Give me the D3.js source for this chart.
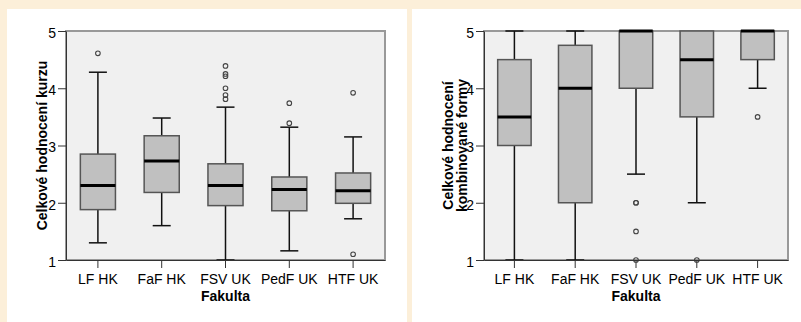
<!DOCTYPE html>
<html>
<head>
<meta charset="utf-8">
<script src="https://cdn.jsdelivr.net/npm/d3@7"></script>
<style>
    body { margin: 0; background: #fcefd9; }
    svg { display: block; font-family: "Liberation Sans", Arial, sans-serif; }
    .axis text { font-size: 14px; fill: #000; }
    .axis line, .axis path { stroke: #333; }
    .title { font-size: 14px; font-weight: bold; fill: #000; }
</style>
</head>
<body>
<script>
// categories on the x axis (both panels)
var faculties = ["LF HK", "FaF HK", "FSV UK", "PedF UK", "HTF UK"];
var yTicks = [1, 2, 3, 4, 5];

// left panel - Celkové hodnocení kurzu
var kurzMin = [1.30, 1.60, 1.00, 1.16, 1.72];
var kurzQ1 = [1.88, 2.18, 1.95, 1.86, 1.99];
var kurzMed = [2.30, 2.73, 2.30, 2.23, 2.21];
var kurzQ3 = [2.85, 3.17, 2.68, 2.45, 2.52];
var kurzMax = [4.28, 3.48, 3.67, 3.32, 3.15];
var kurzOut = [[4.61], [], [4.39, 4.25, 4.21, 4.00, 3.88, 3.81], [3.74, 3.39], [3.92, 1.10]];

// right panel - Celkové hodnocení kombinované formy
var kombMin = [1, 1, 2.5, 2, 4];
var kombQ1 = [3, 2, 4, 3.5, 4.5];
var kombMed = [3.5, 4, 5, 4.5, 5];
var kombQ3 = [4.5, 4.75, 5, 5, 5];
var kombMax = [5, 5, 5, 5, 5];
var kombOut = [[], [], [2, 2, 1.5, 1], [1], [3.5]];

var svg = d3.select("body").append("svg")
    .attr("width", 801)
    .attr("height", 322);

// white panels on the cream page
svg.append("rect").attr("x", 7).attr("y", 9).attr("width", 400).attr("height", 313).attr("fill", "#fff");
svg.append("rect").attr("x", 412).attr("y", 9).attr("width", 389).attr("height", 313).attr("fill", "#fff");

function drawPanel(opt) {
    var x = d3.scaleBand()
        .domain(faculties)
        .range([opt.left, opt.right]);

    var y = d3.scaleLinear()
        .domain([1, 5])
        .range([opt.bottom, opt.top]);

    var g = svg.append("g");

    // plot background + grey frame
    g.append("rect")
        .attr("x", opt.left)
        .attr("y", opt.top)
        .attr("width", opt.right - opt.left)
        .attr("height", opt.bottom - opt.top)
        .attr("fill", "#f0f0f0")
        .attr("stroke", "#999")
        .attr("stroke-width", 2);

    var bw = x.bandwidth() * 0.55;
    var cw = 18;

    var boxes = g.selectAll(".box")
        .data(faculties.map(function (f, i) {
            return { name: f, min: opt.min[i], q1: opt.q1[i], med: opt.med[i], q3: opt.q3[i], max: opt.max[i], out: opt.out[i] };
        }))
        .enter()
        .append("g")
        .attr("class", "box")
        .attr("transform", d => "translate(" + (x(d.name) + x.bandwidth() / 2) + ",0)");

    // whiskers
    boxes.filter(d => d.max > d.q3).append("line")
        .attr("y1", d => y(d.q3)).attr("y2", d => y(d.max))
        .attr("stroke", "#111").attr("stroke-width", 1.5);
    boxes.filter(d => d.max > d.q3).append("line")
        .attr("x1", -cw / 2).attr("x2", cw / 2)
        .attr("y1", d => y(d.max)).attr("y2", d => y(d.max))
        .attr("stroke", "#111").attr("stroke-width", 1.5);
    boxes.filter(d => d.min < d.q1).append("line")
        .attr("y1", d => y(d.q1)).attr("y2", d => y(d.min))
        .attr("stroke", "#111").attr("stroke-width", 1.5);
    boxes.filter(d => d.min < d.q1).append("line")
        .attr("x1", -cw / 2).attr("x2", cw / 2)
        .attr("y1", d => y(d.min)).attr("y2", d => y(d.min))
        .attr("stroke", "#111").attr("stroke-width", 1.5);

    // box
    boxes.append("rect")
        .attr("x", -bw / 2)
        .attr("width", bw)
        .attr("y", d => y(d.q3))
        .attr("height", d => y(d.q1) - y(d.q3))
        .attr("fill", "#c0c0c0")
        .attr("stroke", "#555")
        .attr("stroke-width", 1.5);

    // median
    boxes.append("line")
        .attr("x1", -bw / 2).attr("x2", bw / 2)
        .attr("y1", d => y(d.med)).attr("y2", d => y(d.med))
        .attr("stroke", "#000").attr("stroke-width", 3);

    // outliers
    boxes.selectAll(".out")
        .data(d => d.out)
        .enter()
        .append("circle")
        .attr("class", "out")
        .attr("cy", d => y(d))
        .attr("r", 2.3)
        .attr("fill", "none")
        .attr("stroke", "#444")
        .attr("stroke-width", 1.1);

    // axes
    var yAxis = g.append("g")
        .attr("class", "axis")
        .attr("transform", "translate(" + opt.left + ",0)")
        .call(d3.axisLeft(y).tickValues(yTicks).tickFormat(d3.format("d")).tickSize(8).tickSizeOuter(0).tickPadding(2));
    yAxis.selectAll("text").attr("dy", "0.45em");
    yAxis.selectAll("line").attr("stroke", "#555");

    var xAxis = g.append("g")
        .attr("class", "axis")
        .attr("transform", "translate(0," + opt.bottom + ")")
        .call(d3.axisBottom(x).tickSize(8).tickSizeOuter(0).tickPadding(6));
    xAxis.selectAll("line").attr("stroke", "#777");

    // titles
    g.append("text")
        .attr("class", "title")
        .attr("x", (opt.left + opt.right) / 2)
        .attr("y", 301)
        .attr("text-anchor", "middle")
        .text("Fakulta");

    opt.ylabel.forEach(function (t, i) {
        g.append("text")
            .attr("class", "title")
            .attr("transform", "translate(" + opt.ylabelX[i] + "," + ((opt.top + opt.bottom) / 2) + ") rotate(-90)")
            .attr("text-anchor", "middle")
            .text(t);
    });
}

drawPanel({
    left: 66, right: 385, top: 31, bottom: 260,
    min: kurzMin, q1: kurzQ1, med: kurzMed, q3: kurzQ3, max: kurzMax, out: kurzOut,
    ylabel: ["Celkové hodnocení kurzu"], ylabelX: [47]
});

drawPanel({
    left: 484, right: 788, top: 31, bottom: 260,
    min: kombMin, q1: kombQ1, med: kombMed, q3: kombQ3, max: kombMax, out: kombOut,
    ylabel: ["Celkové hodnocení", "kombinované formy"], ylabelX: [453, 467]
});
</script>
</body>
</html>
